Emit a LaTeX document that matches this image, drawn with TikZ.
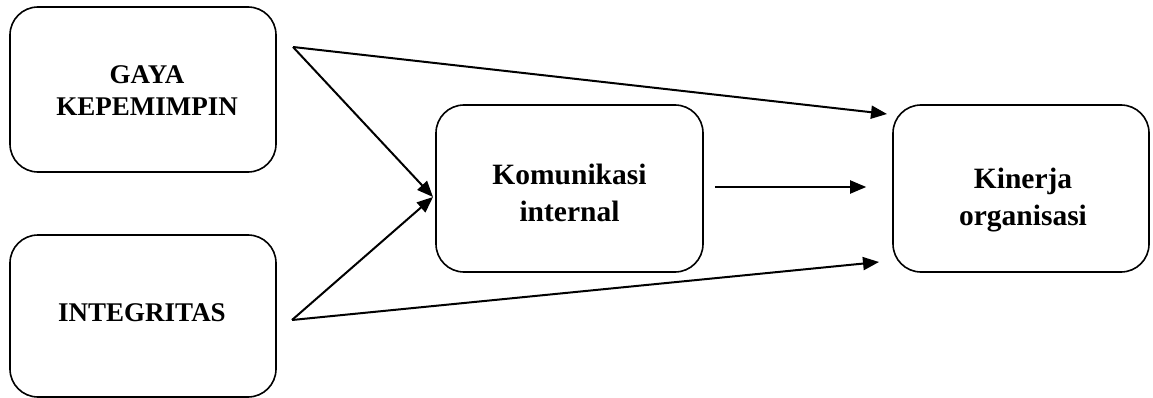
\documentclass[tikz,border=0pt]{standalone}
\usepackage{fontspec}
\setmainfont{Liberation Serif}
\usetikzlibrary{arrows.meta}
\begin{document}
\begin{tikzpicture}[x=1pt,y=-1pt,
  box/.style={draw,line width=1.6pt,rounded corners=28pt,inner sep=0pt},
  txt/.style={align=center,inner sep=0pt},
  small/.style={font=\fontsize{27}{32}\selectfont\bfseries},
  big/.style={font=\fontsize{29.5}{37}\selectfont\bfseries},
  conn/.style={line width=2pt,-{Triangle[length=16pt,width=13pt]}}]
\useasboundingbox (0,0) rectangle (1153,398);
\node[box,minimum width=266pt,minimum height=165pt] (gaya) at (143,89.5) {};
\node[box,minimum width=266pt,minimum height=162pt] (integ) at (143,316) {};
\node[box,minimum width=267pt,minimum height=167pt] (kom) at (569.5,188.5) {};
\node[box,minimum width=256pt,minimum height=167pt] (kin) at (1021,188.5) {};
\node[txt,small] (gayat) at ([xshift=4pt,yshift=-1pt]gaya.center) {GAYA\\KEPEMIMPIN};
\node[txt,small] (integt) at ([xshift=-1pt,yshift=3pt]integ.center) {INTEGRITAS};
\node[txt,big] (komt) at ([yshift=-4pt]kom.center) {Komunikasi\\internal};
\node[txt,big] (kint) at ([xshift=2pt,yshift=-12pt]kin.center) {Kinerja\\organisasi};
\coordinate (s1) at (293,47);
\coordinate (s2) at (292,320);
\coordinate (t1) at (887,114);
\coordinate (t2) at (879,262);
\coordinate (tk) at (433,197);
\draw[conn] (s1) -- (t1);
\draw[conn] (s1) -- (tk);
\draw[conn] (s2) -- (tk);
\draw[conn] (s2) -- (t2);
\draw[conn,shorten <=11pt,shorten >=26pt] (kom.east |- 0,187) -- (kin.west |- 0,187);
\end{tikzpicture}
\end{document}
